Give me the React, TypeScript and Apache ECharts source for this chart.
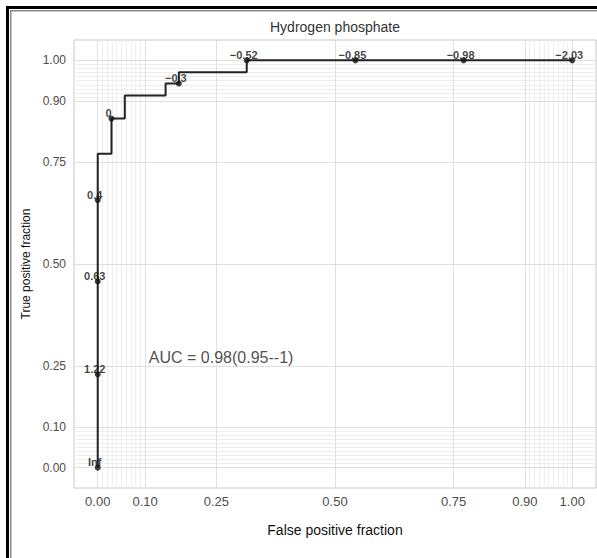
import React, { useEffect, useRef } from "react";
import * as echarts from "echarts";

// ROC step curve corners (FPR, TPR)
const rocFpr = [0, 0, 0.029, 0.029, 0.057, 0.057, 0.143, 0.143, 0.171, 0.171, 0.314, 0.314, 1];
const rocTpr = [0, 0.771, 0.771, 0.857, 0.857, 0.914, 0.914, 0.943, 0.943, 0.971, 0.971, 1, 1];

// Labelled cutoff points
const cutLabels = ["Inf", "1.22", "0.63", "0.4", "0", "\u22120.3", "\u22120.52", "\u22120.85", "\u22120.98", "\u22122.03"];
const cutFpr = [0, 0, 0, 0, 0.029, 0.171, 0.314, 0.543, 0.771, 1];
const cutTpr = [0, 0.229, 0.457, 0.657, 0.857, 0.943, 1, 1, 1, 1];

// Axis breaks
const majorBreaks = [0, 0.1, 0.25, 0.5, 0.75, 0.9, 1];
const minorBreaks = [
  0.01, 0.02, 0.03, 0.04, 0.05, 0.06, 0.07, 0.08, 0.09,
  0.91, 0.92, 0.93, 0.94, 0.95, 0.96, 0.97, 0.98, 0.99,
];
const axisMin = -0.05;
const axisMax = 1.05;

const titleText = "Hydrogen phosphate";
const xTitle = "False positive fraction";
const yTitle = "True positive fraction";
const aucText = "AUC = 0.98(0.95--1)";
const aucPos = [0.26, 0.27];

const FONT = "'Liberation Sans', Arial, sans-serif";

export default function App() {
  const ref = useRef<HTMLDivElement>(null);

  useEffect(() => {
    if (!ref.current) return;
    const chart = echarts.init(ref.current, null, { renderer: "svg" });
    const majorColor = "#e0e0e0";
    const minorColor = "#eeeeee";
    const vLines = (vals: number[]) => vals.map((v) => ({ coords: [[v, axisMin], [v, axisMax]] }));
    const hLines = (vals: number[]) => vals.map((v) => ({ coords: [[axisMin, v], [axisMax, v]] }));
    const axisCommon = {
      type: "value",
      min: axisMin,
      max: axisMax,
      splitLine: { show: false },
      axisLine: { show: false },
      axisTick: { show: true, customValues: majorBreaks, length: 3, lineStyle: { color: "#666" } },
      axisLabel: {
        customValues: majorBreaks,
        formatter: (v: number) => v.toFixed(2),
        color: "#4d4d4d",
        fontSize: 12,
        fontFamily: FONT,
      },
      nameLocation: "middle",
    };
    chart.setOption({
      animation: false,
      backgroundColor: "#ffffff",
      grid: {
        left: 74,
        right: 1,
        top: 40,
        bottom: 70,
        show: true,
        borderColor: "#c8c8c8",
        borderWidth: 1,
        backgroundColor: "transparent",
      },
      xAxis: {
        ...axisCommon,
        axisLabel: { ...axisCommon.axisLabel, margin: 7, fontSize: 13 },
        name: xTitle,
        nameGap: 35,
        nameTextStyle: { fontSize: 14, color: "#111", fontFamily: FONT },
      },
      yAxis: {
        ...axisCommon,
        axisLabel: { ...axisCommon.axisLabel, margin: 8 },
        name: yTitle,
        nameGap: 42,
        nameTextStyle: { fontSize: 12, color: "#111", fontFamily: FONT },
      },
      graphic: [
        { type: "rect", shape: { x: 6, y: 6, width: 3, height: 552 }, style: { fill: "#000" }, silent: true },
        { type: "rect", shape: { x: 6, y: 6, width: 591, height: 3 }, style: { fill: "#000" }, silent: true },
        { type: "rect", shape: { x: 10, y: 10, width: 1.5, height: 548 }, style: { fill: "#888" }, silent: true },
        { type: "rect", shape: { x: 10, y: 10, width: 587, height: 1.5 }, style: { fill: "#888" }, silent: true },
        {
          type: "text",
          x: 335,
          y: 27,
          style: {
            text: titleText,
            textAlign: "center",
            textVerticalAlign: "middle",
            fontSize: 14,
            fontFamily: FONT,
            fill: "#333",
          },
          silent: true,
        },
      ],
      series: [
        {
          type: "lines",
          coordinateSystem: "cartesian2d",
          silent: true,
          z: 0,
          lineStyle: { color: minorColor, width: 1, opacity: 1 },
          data: [...vLines(minorBreaks), ...hLines(minorBreaks)],
        },
        {
          type: "lines",
          coordinateSystem: "cartesian2d",
          silent: true,
          z: 1,
          lineStyle: { color: majorColor, width: 1, opacity: 1 },
          data: [...vLines(majorBreaks), ...hLines(majorBreaks)],
        },
        {
          type: "line",
          data: rocFpr.map((x, i) => [x, rocTpr[i]]),
          showSymbol: false,
          lineStyle: { color: "#222", width: 2 },
          silent: true,
          z: 3,
        },
        {
          type: "scatter",
          data: cutFpr.map((x, i) => [x, cutTpr[i], cutLabels[i]]),
          symbolSize: 6,
          itemStyle: { color: "#111" },
          silent: true,
          z: 4,
          label: {
            show: true,
            position: "top",
            distance: 0,
            offset: [-3, 3],
            formatter: (p: any) => p.data[2],
            fontSize: 11,
            fontWeight: "bold",
            fontFamily: FONT,
            color: "#111",
          },
        },
        {
          type: "scatter",
          data: [aucPos],
          symbolSize: 0,
          silent: true,
          z: 4,
          label: {
            show: true,
            position: "inside",
            formatter: aucText,
            fontSize: 16,
            fontFamily: FONT,
            color: "#222",
          },
        },
      ],
    });
    return () => chart.dispose();
  }, []);

  return (
    <div
      ref={ref}
      style={{ position: "absolute", left: 0, top: 0, width: 597, height: 558 }}
    />
  );
}
